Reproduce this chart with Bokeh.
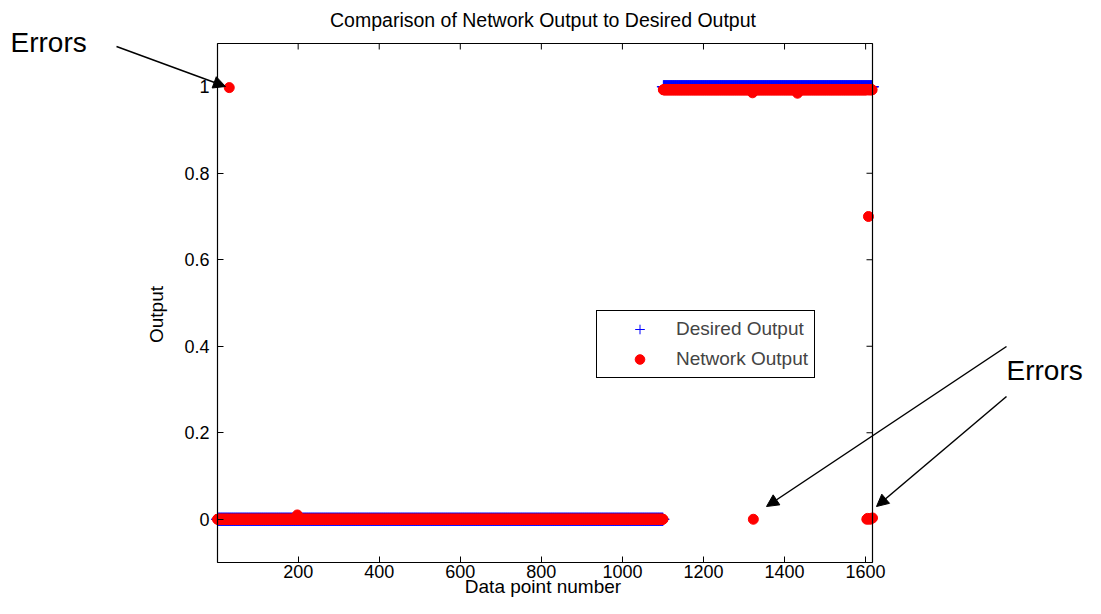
import numpy as np
from bokeh.plotting import figure
from bokeh.models import (Range1d, FixedTicker, Legend, LegendItem,
                          Label, Arrow, NormalHead, BoxAnnotation)
from bokeh.embed import file_html
from bokeh.resources import INLINE

# ---------------- data ----------------
title_text = "Comparison of Network Output to Desired Output"
x_label = "Data point number"
y_label = "Output"
n_points = 1617
class_sizes = [1100, 517]            # points of class 0, then class 1
desired_levels = [0.0, 1.0]          # desired output per class
network_levels = [0.0, 0.993]        # typical network output per class
error_points = [30, 198, 1321, 1323, 1432, 1603, 1605, 1607, 1610, 1613, 1617]
error_values = [0.998, 0.01, 0.986, 0.0, 0.985, 0.0, 0.002, 0.70, 0.0, 0.001, 0.003]
x_ticks = [200, 400, 600, 800, 1000, 1200, 1400, 1600]
y_ticks = [0, 0.2, 0.4, 0.6, 0.8, 1]
y_tick_labels = ["0", "0.2", "0.4", "0.6", "0.8", "1"]
y_limits = [-0.1, 1.1]
series_names = ["Desired Output", "Network Output"]
note_text = "Errors"

x = np.arange(1, n_points + 1)
desired = np.repeat(desired_levels, class_sizes)
network = np.repeat(network_levels, class_sizes).astype(float)
network[np.array(error_points) - 1] = error_values

# ---------------- layout (pixels on the canvas) ----------------
W, H = 1085, 598
FRAME_TOP = 30
BOX_L, BOX_R, BOX_T, BOX_B = 217, 872, 43, 562
TICK = 6
FONT = "Liberation Sans"

x_lo, x_hi = 1, n_points
y_lo, y_hi = y_limits
sx = (BOX_R - BOX_L) / (x_hi - x_lo)
sy = (BOX_B - BOX_T) / (y_hi - y_lo)

def dx(px):
    return x_lo + (px - BOX_L) / sx

def dy(py):
    return y_lo + (BOX_B - py) / sy

x_range = Range1d(dx(0), dx(W))
y_range = Range1d(dy(H), dy(FRAME_TOP))

p = figure(width=W, height=H, x_range=x_range, y_range=y_range,
           output_backend="svg", toolbar_location=None, title=title_text,
           min_border_left=0, min_border_right=0,
           min_border_top=FRAME_TOP, min_border_bottom=0)
p.title.align = "center"
p.title.text_font = FONT
p.title.text_font_size = "19.5px"
p.title.text_font_style = "normal"
p.title.text_color = "black"
p.title.standoff = 0
p.grid.visible = False
p.outline_line_color = None
p.background_fill_color = "white"
p.border_fill_color = "white"

def style_axis(ax, ticks, loc):
    ax.ticker = FixedTicker(ticks=ticks)
    ax.fixed_location = loc
    ax.major_tick_in = TICK
    ax.major_tick_out = 0
    ax.minor_tick_in = 0
    ax.minor_tick_out = 0
    ax.axis_line_color = None
    ax.major_tick_line_color = "black"
    ax.major_label_text_font = FONT
    ax.major_label_text_font_size = "18px"
    ax.major_label_text_color = "black"
    ax.axis_label_text_font = FONT
    ax.axis_label_text_font_size = "19px"
    ax.axis_label_text_font_style = "normal"
    ax.axis_label_text_color = "black"

xa = p.xaxis[0]
style_axis(xa, x_ticks, y_lo)
xa.axis_label = x_label
xa.major_label_standoff = 2
xa.axis_label_standoff = -5

ya = p.yaxis[0]
style_axis(ya, y_ticks, x_lo)
ya.axis_label = y_label
ya.major_label_standoff = 8
ya.axis_label_standoff = 14
ya.major_label_overrides = {t: s for t, s in zip(y_ticks, y_tick_labels)}

# mirrored tick marks on the top and right sides of the box
nx, ny = len(x_ticks), len(y_ticks)
p.segment(x0=x_ticks, y0=[y_hi] * nx, x1=x_ticks, y1=[y_hi - TICK / sy] * nx,
          line_color="black", line_width=1)
p.segment(x0=[x_hi] * ny, y0=y_ticks, x1=[x_hi - TICK / sx] * ny, y1=y_ticks,
          line_color="black", line_width=1)

r_des = p.scatter(x, desired, marker="cross", size=13, line_color="blue",
                  line_width=1)
r_net = p.scatter(x, network, marker="circle", size=10, fill_color="red",
                  line_color="red")

# axes box
p.add_layout(BoxAnnotation(left=x_lo, right=x_hi, bottom=y_lo, top=y_hi,
                           fill_alpha=0, line_color="black", line_alpha=1,
                           line_width=1.2, level="overlay"))

legend = Legend(items=[LegendItem(label=series_names[0], renderers=[r_des]),
                       LegendItem(label=series_names[1], renderers=[r_net])],
                location=(596, H - 378))
legend.border_line_color = "black"
legend.border_line_width = 1
legend.border_line_alpha = 1
legend.background_fill_color = "white"
legend.background_fill_alpha = 1
legend.label_text_font = FONT
legend.label_text_font_size = "19px"
legend.glyph_height = 24
legend.glyph_width = 73
legend.label_standoff = 0
legend.padding = 6
legend.spacing = 6
legend.margin = 0
p.add_layout(legend)

# annotations
for px, py in [(10, 42), (1006, 370)]:
    p.add_layout(Label(x=dx(px), y=dy(py), text=note_text, text_font=FONT,
                       text_font_size="28px", text_baseline="middle",
                       text_align="left", text_color="black"))

for (x0, y0), (x1, y1) in [((116, 46), (225, 86)),
                           ((1006, 346), (766, 506)),
                           ((1006, 396), (876, 506))]:
    p.add_layout(Arrow(x_start=dx(x0), y_start=dy(y0), x_end=dx(x1), y_end=dy(y1),
                       line_color="black", line_width=1.5,
                       end=NormalHead(size=12, fill_color="black",
                                      line_color="black")))

open("out.html", "w").write(file_html(p, INLINE))
